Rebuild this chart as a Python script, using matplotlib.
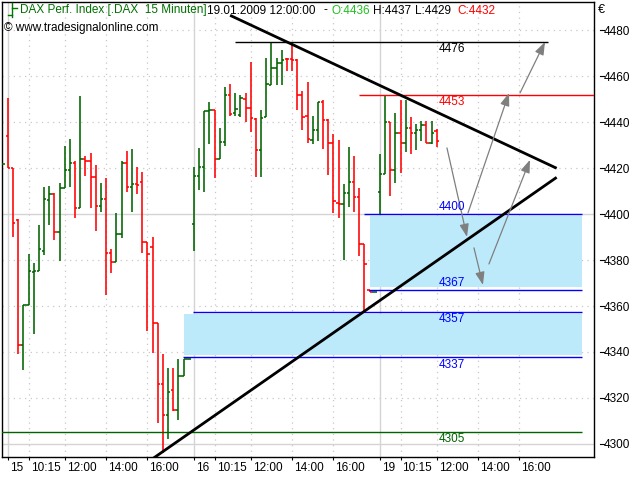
import numpy as np
import matplotlib
matplotlib.use('Agg')
import matplotlib.pyplot as plt
from matplotlib.collections import LineCollection
from matplotlib.patches import Rectangle, FancyArrowPatch
from matplotlib.lines import Line2D
import matplotlib.transforms as mtransforms

plt.rcParams['font.family'] = ['Liberation Sans', 'DejaVu Sans']

# ---------------- data ----------------
# 15-minute OHLC bars: last bar of 14.01, full sessions 15.01 and 16.01, 19.01 until 12:00
opens = [4422.0,
    4433.8, 4420.0, 4397.5, 4342.9, 4360.4, 4374.6, 4375.3, 4384.1, 4406.2, 4408.8,
    4392.1, 4411.4, 4419.3, 4422.2, 4402.5, 4424.1, 4423.2, 4416.1, 4403.7, 4406.5,
    4382.9, 4379.3, 4391.3, 4422.2, 4412.0, 4413.2, 4413.9, 4387.7, 4385.8, 4352.4,
    4326.2, 4312.4, 4323.3, 4314.8, 4329.4, 4337.1,
    4395.5, 4416.6, 4420.4, 4445.0, 4445.4, 4423.9, 4431.3, 4451.9, 4443.9, 4443.2,
    4450.0, 4446.1, 4441.3, 4427.9, 4442.2, 4456.3, 4463.6, 4465.7, 4467.6, 4467.3,
    4467.2, 4451.9, 4442.8, 4432.3, 4436.4, 4449.0, 4441.0, 4430.8, 4404.9, 4404.4,
    4409.0, 4414.1, 4407.6, 4387.2, 4366.8, 4366.3,
    4409.5, 4417.3, 4440.0, 4419.2, 4435.2, 4431.1, 4437.4, 4435.2, 4436.7, 4438.8,
    4430.8, 4436.0]
highs = [4422.0,
    4450.5, 4420.0, 4397.7, 4360.4, 4382.6, 4378.8, 4395.3, 4412.0, 4412.3, 4409.1,
    4413.5, 4429.7, 4432.8, 4422.9, 4451.3, 4425.4, 4426.6, 4421.5, 4413.5, 4415.6,
    4384.7, 4400.4, 4422.9, 4427.6, 4428.4, 4420.7, 4418.3, 4387.7, 4390.2, 4352.4,
    4339.3, 4333.2, 4333.2, 4337.1, 4337.1, 4337.1,
    4420.7, 4428.7, 4445.0, 4449.0, 4445.4, 4437.4, 4455.3, 4456.7, 4452.7, 4451.9,
    4452.9, 4466.0, 4441.7, 4445.4, 4467.9, 4474.9, 4467.9, 4471.6, 4467.9, 4474.5,
    4467.5, 4453.4, 4457.3, 4442.8, 4448.6, 4449.5, 4441.3, 4434.9, 4432.3, 4413.1,
    4429.4, 4425.3, 4411.2, 4387.2, 4366.8, 4366.3,
    4426.2, 4451.9, 4440.0, 4443.9, 4449.7, 4449.7, 4442.2, 4439.3, 4440.7, 4440.3,
    4440.7, 4437.0]
lows = [4422.0,
    4420.0, 4390.2, 4339.3, 4332.0, 4360.4, 4348.0, 4375.2, 4382.2, 4395.3, 4388.7,
    4379.7, 4411.4, 4412.0, 4398.5, 4402.5, 4416.7, 4402.5, 4392.8, 4401.1, 4365.0,
    4374.2, 4379.3, 4389.5, 4409.8, 4401.1, 4408.7, 4382.9, 4349.2, 4339.6, 4309.2,
    4296.0, 4302.2, 4314.5, 4310.6, 4329.4, 4337.1,
    4384.0, 4410.5, 4409.7, 4430.4, 4415.9, 4423.9, 4429.7, 4442.5, 4442.8, 4442.2,
    4439.9, 4435.9, 4416.3, 4416.3, 4442.2, 4456.3, 4456.3, 4456.3, 4462.1, 4462.1,
    4445.4, 4436.7, 4431.1, 4430.4, 4431.6, 4428.2, 4417.0, 4400.6, 4398.1, 4379.9,
    4402.9, 4401.0, 4381.7, 4357.4, 4366.3, 4366.3,
    4400.0, 4417.3, 4407.9, 4413.7, 4417.7, 4427.2, 4426.2, 4427.9, 4431.9, 4430.8,
    4430.5, 4429.0]
closes = [4422.0,
    4420.0, 4396.3, 4342.9, 4360.4, 4375.2, 4375.3, 4384.7, 4406.5, 4408.8, 4392.1,
    4411.4, 4419.3, 4422.2, 4402.5, 4424.1, 4423.2, 4416.1, 4403.7, 4406.5, 4382.9,
    4379.3, 4391.3, 4422.2, 4412.0, 4413.2, 4412.7, 4387.7, 4382.6, 4352.4, 4326.2,
    4312.4, 4322.8, 4314.8, 4329.4, 4337.1, 4337.1,
    4416.6, 4420.4, 4445.0, 4445.4, 4423.9, 4431.3, 4451.9, 4443.5, 4445.7, 4450.5,
    4446.1, 4441.7, 4427.9, 4441.7, 4456.7, 4463.6, 4465.7, 4467.2, 4467.3, 4467.2,
    4451.9, 4442.2, 4432.6, 4436.4, 4448.6, 4441.0, 4430.8, 4405.8, 4404.4, 4409.0,
    4414.1, 4407.6, 4387.2, 4378.5, 4366.3, 4366.3,
    4417.3, 4440.0, 4419.2, 4435.2, 4431.1, 4437.4, 4435.2, 4436.7, 4438.8, 4431.1,
    4435.2, 4432.0]

session_labels = ['15', '16', '19']
bars_per_session = 36
first_session_bar = 1          # index of first bar of 15.01
slot_times = ['%d:%02d' % divmod(9 * 60 + 15 + 15 * k, 60) for k in range(bars_per_session)]
time_ticks = ['10:15', '12:00', '14:00', '16:00']

# horizontal levels: (drawn level, label, colour, start bar, end bar, label above?)
levels = [(4475.0, '4476', '#000000', 44.95, 105.55, False),
          (4452.0, '4453', '#ff0000', 68.96, 114.5, False),
          (4400.0, '4400', '#0000ff', 69.93, 112.13, True),
          (4367.0, '4367', '#0000ff', 70.89, 112.13, True),
          (4357.5, '4357', '#0000ff', 36.82, 112.13, False),
          (4337.7, '4337', '#0000ff', 34.88, 112.13, False),
          (4305.3, '4305', '#006400', -1.0, 112.13, False)]
zones = [(71.09, 112.13, 4368.3, 4399.2), (35.08, 112.13, 4338.8, 4356.4)]
trend_lines = [((44.0, 4486.5), (107.23, 4419.95)),
               ((28.2, 4292.3), (107.23, 4416.0))]
scenario_arrows = [((85.99, 4428.8), (89.87, 4390.1)),
                   ((90.06, 4400.5), (98.0, 4452.7)),
                   ((100.13, 4452.7), (104.97, 4474.9)),
                   ((91.22, 4385.3), (92.96, 4369.2)),
                   ((94.12, 4378.3), (102.06, 4423.6))]
label_x = 86.87

# ---------------- figure ----------------
W, H = 640, 480
fig = plt.figure(figsize=(6.4, 4.8), dpi=100)
fig.patch.set_facecolor('white')
ax = fig.add_axes([2 / W, (H - 457) / H, 592 / W, 455 / H])
ax.set_xlim(-0.162, 114.46)
ax.set_ylim(4294.3, 4492.3)
for s in ax.spines.values():
    s.set_color('black')
    s.set_linewidth(1.0)

# grid
yt = np.arange(4300, 4481, 20)
for v in yt:
    if v % 100 == 0:
        ax.axhline(v, color='#d4d4d4', lw=1.0, zorder=0)
    else:
        ax.axhline(v, color='#c8c8c8', lw=0.9, ls=(0, (1, 3.5)), zorder=0)

xt_pos, xt_lab = [], []
for d, lab in enumerate(session_labels):
    start = first_session_bar + d * bars_per_session
    ax.axvline(start, color='#d4d4d4', lw=1.0, zorder=0)
    xt_pos.append(start)
    xt_lab.append(lab)
    for t in time_ticks:
        p = start + slot_times.index(t)
        ax.axvline(p, color='#c8c8c8', lw=0.9, ls=(0, (1, 3.5)), zorder=0)
        xt_pos.append(p)
        xt_lab.append(t)

# zones
for x0, x1, y0, y1 in zones:
    ax.add_patch(Rectangle((x0, y0), x1 - x0, y1 - y0, facecolor='#bdeafb',
                           edgecolor='none', zorder=1))

# OHLC bars
xs = np.arange(len(opens))
tw = 0.45
segs, cols = [], []
for x, o, h, l, c in zip(xs, opens, highs, lows, closes):
    col = '#006400' if c >= o else '#ff0000'
    if h > l:
        segs.append([(x, l), (x, h)]); cols.append(col)
    segs.append([(x - tw, o), (x, o)]); cols.append(col)
    segs.append([(x, c), (x + tw, c)]); cols.append(col)
ax.add_collection(LineCollection(segs, colors=cols, linewidths=1.15, zorder=3,
                                 capstyle='butt'))

# levels
for v, lab, col, x0, x1, above in levels:
    ax.plot([x0, x1], [v, v], color=col, lw=1.0, zorder=4, solid_capstyle='butt')
    ax.annotate(lab, (label_x, v), xytext=(0, 1 if above else -1),
                textcoords='offset points', ha='center',
                va='bottom' if above else 'top', color=col, fontsize=8.5, zorder=6)

# trend lines
for (a, b) in trend_lines:
    ax.plot([a[0], b[0]], [a[1], b[1]], color='black', lw=2.0, zorder=5,
            solid_capstyle='butt')

# scenario arrows
for (a, b) in scenario_arrows:
    ax.add_patch(FancyArrowPatch(a, b, arrowstyle='-|>,head_length=0.55,head_width=0.2',
                                 mutation_scale=14, color='#7f7f7f', lw=0.9,
                                 facecolor='#b0b0b0', shrinkA=0, shrinkB=0, zorder=5))

# x axis ticks
ax.set_xticks(xt_pos)
ax.set_xticklabels(xt_lab, fontsize=8.5, ha='left')
ax.tick_params(axis='x', direction='out', length=2.5, width=0.8, pad=1.2, colors='black')
off = mtransforms.ScaledTranslation(2 / 100, 0, fig.dpi_scale_trans)
for lbl in ax.get_xticklabels():
    lbl.set_transform(lbl.get_transform() + off)

# y axis on the right
ax.yaxis.tick_right()
ax.set_yticks(yt)
ax.set_yticklabels([str(v) for v in yt], fontsize=8.5)
ax.tick_params(axis='y', length=0, pad=7.2, colors='black')
btr = mtransforms.blended_transform_factory(ax.transAxes, ax.transData)
for v in yt:
    ax.add_line(Line2D([(600 - 2) / 592, (603.5 - 2) / 592], [v, v], transform=btr,
                       color='black', lw=0.8, clip_on=False))
fig.text(598 / W, 1 - 10 / H, '€', fontsize=9, ha='left', va='center')

# header
icon = [[(12.3, 3), (12.3, 17)], [(8, 15), (12.3, 15)], [(12.3, 8.3), (16.7, 8.3)]]
for seg in icon:
    fig.add_artist(Line2D([p[0] / W for p in seg], [1 - p[1] / H for p in seg],
                          color='#007800', lw=1.0, transform=fig.transFigure))
hy = 1 - 10.5 / H
parts = [(20, 'DAX Perf. Index [.DAX  15 Minuten]', '#007000'),
         (207, '19.01.2009 12:00:00', 'black'),
         (323, '-', 'black'),
         (331, 'O:4436', '#22c022'),
         (373, 'H:4437', 'black'),
         (415, 'L:4429', 'black'),
         (457, 'C:4432', '#ff0000')]
for x, t, c in parts:
    fig.text(x / W, hy, t, color=c, fontsize=8.5, ha='left', va='center')
fig.text(4 / W, 1 - 28.5 / H, '© www.tradesignalonline.com', color='black',
         fontsize=8.5, ha='left', va='center')

fig.savefig('out.png', dpi=100, facecolor='white')
